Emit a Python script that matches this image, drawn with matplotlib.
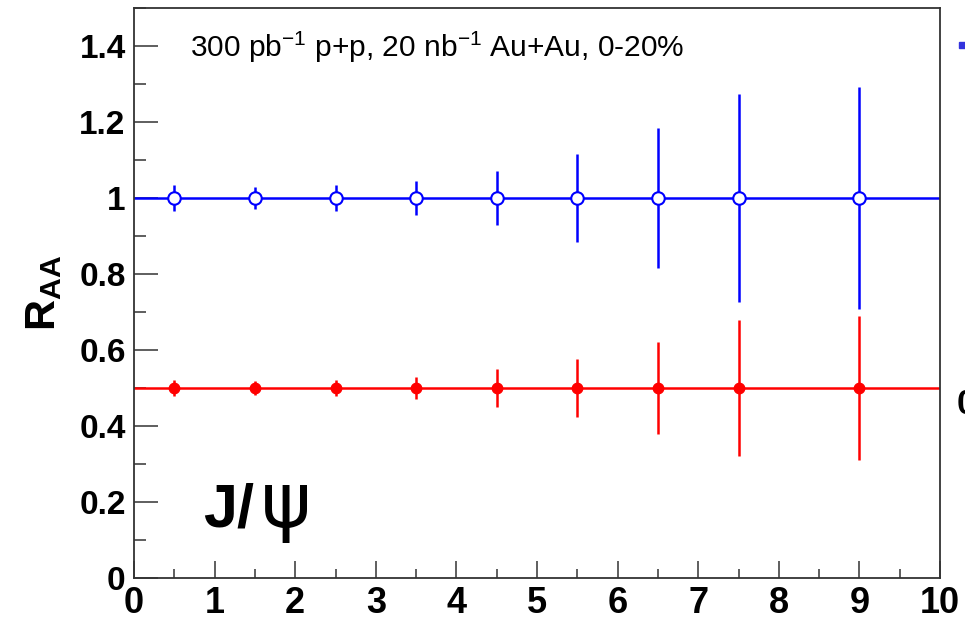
import matplotlib
matplotlib.use("Agg")
import matplotlib.pyplot as plt
from matplotlib.ticker import MultipleLocator
from matplotlib.lines import Line2D

# ---- data ----
pt = [0.5, 1.5, 2.5, 3.5, 4.5, 5.5, 6.5, 7.5, 9.0]
raa_hi = [1.0, 1.0, 1.0, 1.0, 1.0, 1.0, 1.0, 1.0, 1.0]
err_hi = [0.034, 0.030, 0.034, 0.045, 0.071, 0.116, 0.183, 0.273, 0.293]
raa_lo = [0.5, 0.5, 0.5, 0.5, 0.5, 0.5, 0.5, 0.5, 0.5]
err_lo = [0.022, 0.018, 0.022, 0.030, 0.050, 0.076, 0.120, 0.180, 0.190]
ref_hi = 1.0
ref_lo = 0.5
xticks = [0, 1, 2, 3, 4, 5, 6, 7, 8, 9, 10]
yticks = [0, 0.2, 0.4, 0.6, 0.8, 1.0, 1.2, 1.4]
ytick_labels = ["0", "0.2", "0.4", "0.6", "0.8", "1", "1.2", "1.4"]
annot = r"300 pb$^{-1}$ p+p, 20 nb$^{-1}$ Au+Au, 0-20%"
particle_a = "J/"
particle_b = "ψ"

plt.rcParams['font.family'] = ['Liberation Sans', 'DejaVu Sans']
plt.rcParams['mathtext.fontset'] = 'custom'
plt.rcParams['mathtext.rm'] = 'Liberation Sans'
plt.rcParams['mathtext.bf'] = 'Liberation Sans:bold'

W, H = 965, 617
fig = plt.figure(figsize=(W / 100, H / 100), dpi=100)
ax = fig.add_axes([134 / W, 1 - 578 / H, (940 - 134) / W, (578 - 8) / H])

ax.axhline(ref_hi, color='#0000ff', lw=1.8, zorder=2)
ax.axhline(ref_lo, color='#ff0000', lw=1.8, zorder=2)

ax.errorbar(pt, raa_hi, yerr=err_hi, fmt='o', color='#0000ff', mfc='white',
            mec='#0000ff', mew=1.5, ms=9, elinewidth=1.8, capsize=0, zorder=3)
ax.errorbar(pt, raa_lo, yerr=err_lo, fmt='o', color='#ff0000', mfc='#ff0000',
            mec='#ff0000', ms=7.5, elinewidth=1.8, capsize=0, zorder=3)

ax.set_xlim(0, 10)
ax.set_ylim(0, 1.5)
ax.set_xticks(xticks)
ax.set_xticklabels([str(v) for v in xticks])
ax.set_yticks(yticks)
ax.set_yticklabels(ytick_labels)
ax.xaxis.set_minor_locator(MultipleLocator(0.5))
ax.yaxis.set_minor_locator(MultipleLocator(0.1))

ax.tick_params(axis='both', which='both', direction='in', color='#333333')
ax.tick_params(axis='x', which='major', length=12.5, width=1.1, pad=6,
               labelsize=26)
ax.tick_params(axis='x', which='minor', length=6.5, width=1.1)
ax.tick_params(axis='y', which='major', length=17, width=1.1, pad=6,
               labelsize=24)
ax.tick_params(axis='y', which='minor', length=8.5, width=1.1)
for lab in ax.get_xticklabels() + ax.get_yticklabels():
    lab.set_fontweight('bold')
for s in ax.spines.values():
    s.set_linewidth(1.3)
    s.set_color('#333333')

ax.set_ylabel(r"$\mathbf{R_{AA}}$", fontsize=31)
ax.yaxis.set_label_coords((64 - 134) / 806, 0.5)

fig.text(190 / W, 1 - 47 / H, annot, fontsize=21.5, va='center', ha='left')
fig.text(203 / W, 1 - 527 / H, particle_a, fontsize=44, fontweight='bold',
         va='baseline', ha='left')
fig.text(261 / W, 1 - 527 / H, particle_b, fontsize=55, fontweight='normal',
         va='baseline', ha='left', family=['DejaVu Sans'])

# cut-off legend pieces at the right edge
fig.add_artist(Line2D([962 / W], [1 - 45 / H], marker='s', ms=5,
                      color='#3333dd', transform=fig.transFigure))
fig.text(957 / W, 1 - 405 / H, "0", fontsize=25, fontweight='bold',
         va='center', ha='left')

fig.savefig("out.png", dpi=100)
